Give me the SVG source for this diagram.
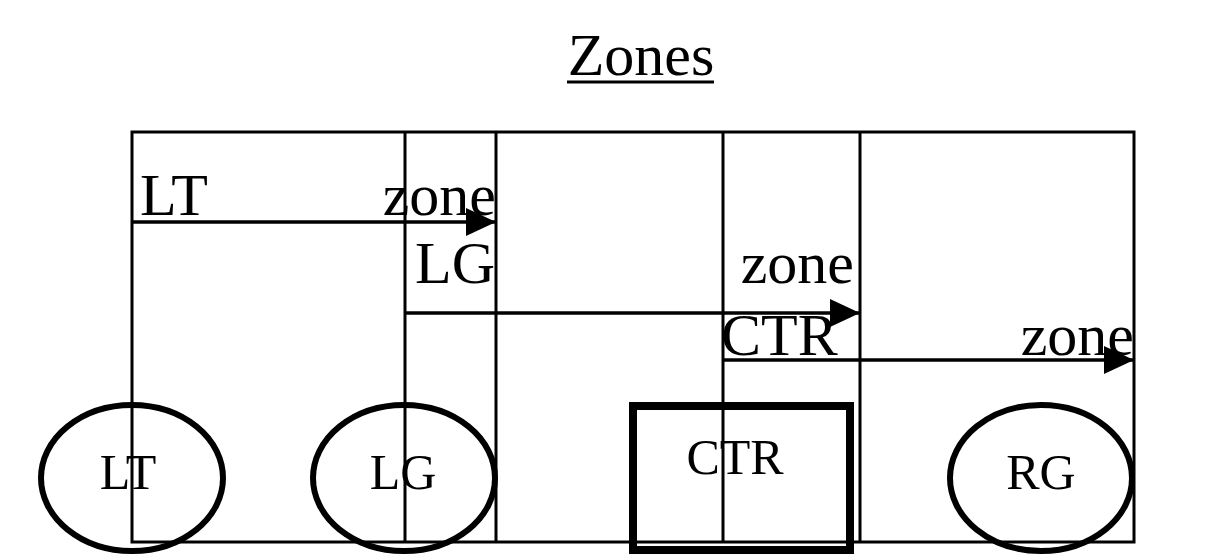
<svg xmlns="http://www.w3.org/2000/svg" width="1218" height="555" viewBox="0 0 1218 555">
<style>
.grid{fill:none;stroke:#000;stroke-width:3}
.arr{fill:none;stroke:#000;stroke-width:3.5}
.lbl{font-family:"Liberation Serif","Times New Roman",serif;font-size:60px;fill:#000}
.nlbl{font-family:"Liberation Serif","Times New Roman",serif;font-size:50px;fill:#000;text-anchor:middle}
.node{fill:none;stroke:#000;stroke-width:6}
</style>
<defs>
<marker id="ah" markerUnits="userSpaceOnUse" markerWidth="30" markerHeight="28" refX="30" refY="14" orient="auto" viewBox="0 0 30 28">
<path d="M0,0 L30,14 L0,28 z" fill="#000"/>
</marker>
</defs>
<rect width="1218" height="555" fill="#fff"/>
<g id="title">
<text x="641" y="75" font-family="Liberation Serif, Times New Roman, serif" font-size="60" text-anchor="middle">Zones</text>
<line x1="567" y1="82" x2="714" y2="82" stroke="#000" stroke-width="3"/>
</g>
<g id="zones">
<rect class="grid" x="132" y="132" width="1002" height="410"/>
<line class="grid" x1="405" y1="132" x2="405" y2="542"/>
<line class="grid" x1="496" y1="132" x2="496" y2="542"/>
<line class="grid" x1="723" y1="132" x2="723" y2="542"/>
<line class="grid" x1="860" y1="132" x2="860" y2="542"/>
</g>
<g id="connectors">
<line class="arr" x1="132" y1="222" x2="496" y2="222" marker-end="url(#ah)"/>
<line class="arr" x1="405" y1="313" x2="860" y2="313" marker-end="url(#ah)"/>
<line class="arr" x1="723" y1="360" x2="1134" y2="360" marker-end="url(#ah)"/>
</g>
<g id="zone-labels">
<text class="lbl" x="140" y="215">LT</text>
<text class="lbl" x="496" y="215" text-anchor="end">zone</text>
<text class="lbl" x="415" y="283">LG</text>
<text class="lbl" x="854" y="283" text-anchor="end">zone</text>
<text class="lbl" x="721" y="355">CTR</text>
<text class="lbl" x="1134" y="355" text-anchor="end">zone</text>
</g>
<g id="node-LT">
<ellipse class="node" cx="132" cy="478" rx="91" ry="73"/>
<text class="nlbl" x="128" y="489">LT</text>
</g>
<g id="node-LG">
<ellipse class="node" cx="404" cy="478" rx="91" ry="73"/>
<text class="nlbl" x="403" y="489">LG</text>
</g>
<g id="node-CTR">
<rect x="633" y="406" width="217" height="144" fill="none" stroke="#000" stroke-width="8"/>
<text class="nlbl" x="735" y="474">CTR</text>
</g>
<g id="node-RG">
<ellipse class="node" cx="1041" cy="478" rx="91" ry="73"/>
<text class="nlbl" x="1041" y="489">RG</text>
</g>
</svg>
